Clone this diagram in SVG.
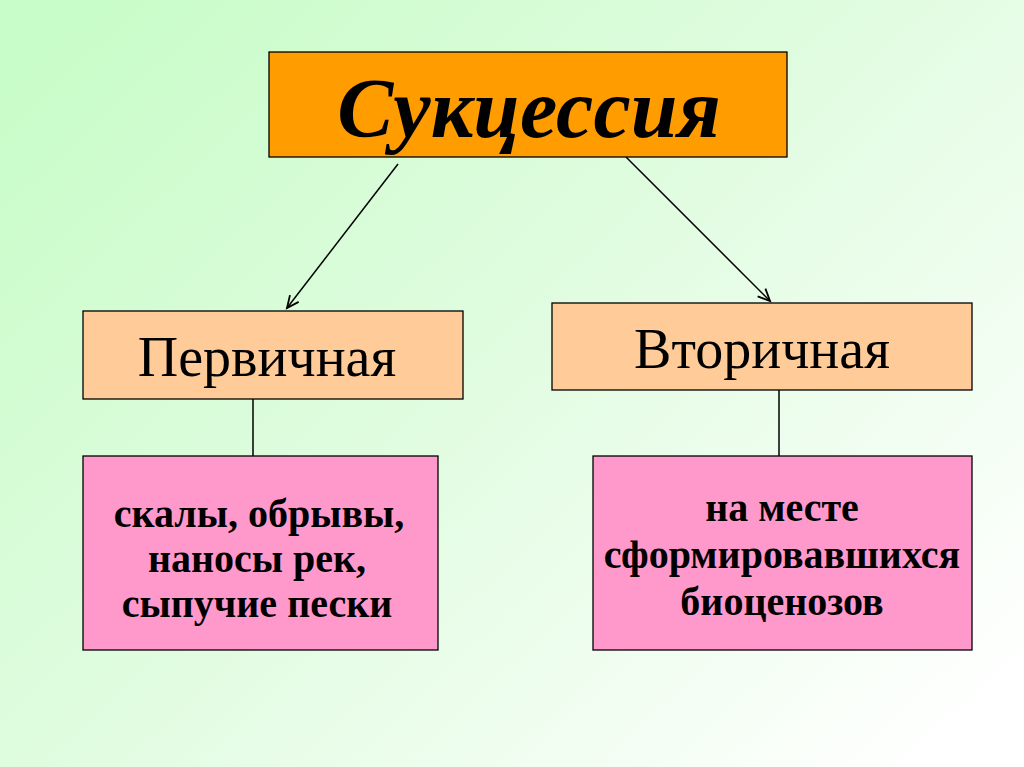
<svg xmlns="http://www.w3.org/2000/svg" width="1024" height="767" viewBox="0 0 1024 767">
<defs>
<linearGradient id="bg" x1="0" y1="0.1" x2="1" y2="0.9">
<stop offset="0" stop-color="#c8fcc8"/>
<stop offset="0.5" stop-color="#e2fce2"/>
<stop offset="1" stop-color="#ffffff"/>
</linearGradient>
<marker id="arr" markerWidth="16" markerHeight="14" refX="13" refY="7" orient="auto" markerUnits="userSpaceOnUse">
<path d="M1,1.5 L13,7 L1,12.5" fill="none" stroke="#000" stroke-width="1.8"/>
</marker>
</defs>
<style>
.box{stroke:#000;stroke-width:1.3}
.t{font-family:"Liberation Serif","Times New Roman",serif;fill:#000;text-anchor:middle}
.title{font-size:84px;font-weight:bold;font-style:italic}
.mid{font-size:56px}
.sub{font-size:40px;font-weight:bold}
.ln{stroke:#000;stroke-width:1.5;fill:none}
</style>
<rect width="1024" height="767" fill="url(#bg)"/>
<g id="connectors">
<line class="ln" x1="398" y1="164" x2="287" y2="308" marker-end="url(#arr)"/>
<line class="ln" x1="626" y1="157" x2="770" y2="301" marker-end="url(#arr)"/>
<line class="ln" x1="253" y1="399" x2="253" y2="456"/>
<line class="ln" x1="779" y1="390" x2="779" y2="456"/>
</g>
<g id="succession">
<rect class="box" x="269" y="52" width="518" height="105" fill="#ff9c00"/>
<text class="t title" x="529" y="137">Сукцессия</text>
</g>
<g id="primary">
<rect class="box" x="83" y="311" width="380" height="88" fill="#ffcc99"/>
<text class="t mid" x="267" y="376">Первичная</text>
</g>
<g id="secondary">
<rect class="box" x="552" y="303" width="420" height="87" fill="#ffcc99"/>
<text class="t mid" x="762" y="368">Вторичная</text>
</g>
<g id="primary-desc">
<rect class="box" x="83" y="456" width="355" height="194" fill="#ff99cc"/>
<text class="t sub" x="259" y="527">скалы, обрывы,</text>
<text class="t sub" x="257" y="572">наносы рек,</text>
<text class="t sub" x="257" y="617">сыпучие пески</text>
</g>
<g id="secondary-desc">
<rect class="box" x="593" y="456" width="379" height="194" fill="#ff99cc"/>
<text class="t sub" x="782" y="521">на месте</text>
<text class="t sub" x="782" y="568">сформировавшихся</text>
<text class="t sub" x="782" y="615">биоценозов</text>
</g>
</svg>
